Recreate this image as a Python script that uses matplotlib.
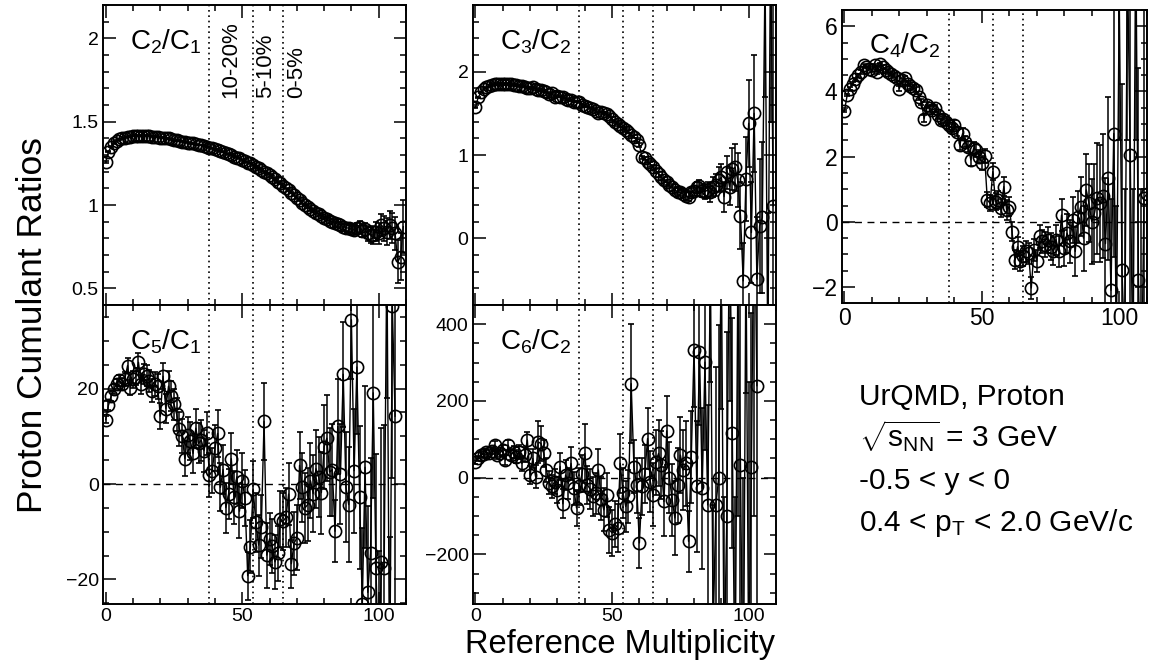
"""UrQMD proton cumulant ratios vs reference multiplicity (5 panels, ROOT-like style)."""

import matplotlib

matplotlib.use("Agg")
import matplotlib.pyplot as plt  # noqa: E402
import numpy as np  # noqa: E402
from matplotlib.ticker import FuncFormatter, MultipleLocator  # noqa: E402

# ---- data (one point per multiplicity bin) ----
c21 = [1.26, 1.32, 1.35, 1.37, 1.385, 1.395, 1.40, 1.405, 1.41, 1.41,
       1.415, 1.415, 1.415, 1.415, 1.415, 1.415, 1.415, 1.41, 1.41, 1.41,
       1.405, 1.405, 1.40, 1.40, 1.395, 1.39, 1.39, 1.385, 1.38, 1.38,
       1.375, 1.37, 1.37, 1.365, 1.36, 1.36, 1.355, 1.35, 1.345, 1.34,
       1.335, 1.33, 1.325, 1.32, 1.31, 1.305, 1.30, 1.29, 1.285, 1.28,
       1.27, 1.265, 1.255, 1.25, 1.24, 1.23, 1.22, 1.21, 1.20, 1.19,
       1.18, 1.17, 1.155, 1.14, 1.13, 1.115, 1.10, 1.09, 1.075, 1.06,
       1.045, 1.03, 1.015, 1.00, 0.99, 0.975, 0.965, 0.955, 0.945, 0.935,
       0.925, 0.915, 0.905, 0.90, 0.89, 0.885, 0.88, 0.87, 0.865, 0.86,
       0.855, 0.85, 0.86, 0.87, 0.845, 0.855, 0.83, 0.82, 0.82, 0.84,
       0.83, 0.88, 0.86, 0.84, 0.88, 0.86, 0.83, 0.66, 0.69, 0.87]
c21_err = [0.006, 0.004, 0.003, 0.003, 0.003, 0.003, 0.003, 0.003, 0.003, 0.003,
           0.003, 0.003, 0.003, 0.003, 0.003, 0.003, 0.003, 0.003, 0.003, 0.003,
           0.003, 0.003, 0.003, 0.003, 0.003, 0.003, 0.003, 0.003, 0.003, 0.003,
           0.003, 0.003, 0.003, 0.003, 0.003, 0.003, 0.003, 0.003, 0.003, 0.003,
           0.004, 0.004, 0.004, 0.004, 0.004, 0.004, 0.004, 0.004, 0.004, 0.004,
           0.004, 0.004, 0.004, 0.004, 0.004, 0.004, 0.004, 0.004, 0.004, 0.004,
           0.005, 0.005, 0.005, 0.005, 0.005, 0.005, 0.005, 0.005, 0.005, 0.005,
           0.006, 0.006, 0.007, 0.007, 0.008, 0.008, 0.009, 0.009, 0.010, 0.010,
           0.011, 0.012, 0.013, 0.014, 0.015, 0.016, 0.018, 0.019, 0.021, 0.023,
           0.025, 0.027, 0.030, 0.033, 0.036, 0.040, 0.044, 0.048, 0.053, 0.058,
           0.063, 0.068, 0.074, 0.080, 0.085, 0.090, 0.100, 0.130, 0.140, 0.160]

c32 = [1.57, 1.69, 1.75, 1.79, 1.81, 1.83, 1.84, 1.85, 1.85, 1.85,
       1.85, 1.85, 1.85, 1.85, 1.84, 1.84, 1.83, 1.83, 1.82, 1.80,
       1.80, 1.81, 1.79, 1.78, 1.78, 1.77, 1.75, 1.73, 1.74, 1.69,
       1.71, 1.70, 1.69, 1.67, 1.66, 1.66, 1.64, 1.64, 1.63, 1.60,
       1.59, 1.58, 1.56, 1.55, 1.53, 1.50, 1.52, 1.50, 1.49, 1.47,
       1.43, 1.40, 1.37, 1.35, 1.32, 1.30, 1.28, 1.24, 1.22, 1.18,
       1.12, 0.97, 0.96, 0.92, 0.89, 0.85, 0.81, 0.77, 0.73, 0.70,
       0.67, 0.64, 0.61, 0.58, 0.56, 0.55, 0.53, 0.51, 0.50, 0.55,
       0.57, 0.61, 0.63, 0.57, 0.56, 0.58, 0.55, 0.62, 0.64, 0.70,
       0.73, 0.50, 0.79, 0.62, 0.83, 0.85, 0.70, 0.27, -0.51, 0.71,
       1.38, 0.07, 1.50, -0.49, 0.15, 0.25, 3.2, -1.5, 3.6, 0.39]
c32_err = [0.01, 0.01, 0.01, 0.01, 0.01, 0.01, 0.01, 0.01, 0.01, 0.01,
           0.01, 0.01, 0.01, 0.01, 0.01, 0.01, 0.01, 0.01, 0.01, 0.01,
           0.01, 0.01, 0.01, 0.01, 0.01, 0.01, 0.01, 0.01, 0.01, 0.01,
           0.01, 0.01, 0.01, 0.01, 0.01, 0.01, 0.01, 0.01, 0.01, 0.01,
           0.01, 0.01, 0.01, 0.01, 0.01, 0.01, 0.01, 0.01, 0.01, 0.01,
           0.02, 0.02, 0.02, 0.02, 0.02, 0.02, 0.02, 0.02, 0.02, 0.02,
           0.02, 0.02, 0.02, 0.02, 0.03, 0.03, 0.03, 0.03, 0.03, 0.03,
           0.03, 0.03, 0.04, 0.04, 0.04, 0.04, 0.05, 0.05, 0.05, 0.05,
           0.06, 0.07, 0.07, 0.08, 0.09, 0.10, 0.11, 0.12, 0.13, 0.15,
           0.16, 0.18, 0.20, 0.22, 0.25, 0.28, 0.32, 0.40, 0.45, 0.50,
           0.52, 0.60, 0.70, 0.75, 0.80, 0.90, 1.50, 1.80, 2.20, 2.50]

c42 = [3.40, 3.89, 4.09, 4.24, 4.37, 4.50, 4.60, 4.80, 4.76, 4.70,
       4.65, 4.80, 4.60, 4.83, 4.76, 4.65, 4.60, 4.55, 4.47, 4.40,
       4.09, 4.35, 4.40, 4.24, 4.16, 4.12, 4.06, 3.84, 3.68, 3.17,
       3.58, 3.48, 3.43, 3.48, 3.28, 3.12, 3.17, 3.07, 2.97, 2.87,
       2.97, 2.77, 2.36, 2.71, 2.46, 2.31, 1.90, 2.26, 2.20, 2.00,
       1.80, 2.02, 0.67, 0.57, 1.54, 0.62, 0.67, 0.42, 1.08, 0.37,
       0.47, -0.30, -1.16, -0.76, -1.20, -1.06, -0.90, -0.96, -2.03, -0.86,
       -1.21, -0.45, -0.60, -0.70, -0.55, -0.76, -0.90, -0.55, -0.91, 0.21,
       -0.81, -0.35, -0.60, 0.06, -0.91, 0.16, 0.47, -0.50, 0.98, 0.57,
       0.01, 0.27, 0.72, 0.57, 0.78, -0.67, 1.34, -2.10, 2.71, -3.5,
       7.0, -1.47, -4.0, 8.0, 2.05, -5.0, 9.0, -1.78, -6.0, 0.74, 0.85]
c42_err = [0.03, 0.03, 0.04, 0.04, 0.04, 0.05, 0.05, 0.05, 0.05, 0.05,
           0.05, 0.05, 0.05, 0.05, 0.06, 0.06, 0.06, 0.06, 0.06, 0.07,
           0.07, 0.07, 0.07, 0.08, 0.08, 0.08, 0.09, 0.09, 0.10, 0.10,
           0.10, 0.11, 0.11, 0.12, 0.12, 0.12, 0.13, 0.13, 0.14, 0.14,
           0.15, 0.15, 0.16, 0.16, 0.17, 0.18, 0.18, 0.19, 0.20, 0.20,
           0.21, 0.22, 0.23, 0.24, 0.25, 0.26, 0.27, 0.28, 0.29, 0.30,
           0.30, 0.30, 0.30, 0.30, 0.31, 0.31, 0.32, 0.32, 0.33, 0.33,
           0.34, 0.35, 0.36, 0.38, 0.40, 0.42, 0.44, 0.46, 0.48, 0.50,
           0.55, 0.60, 0.65, 0.70, 0.75, 0.80, 0.90, 1.00, 1.10, 1.20,
           1.30, 1.50, 1.70, 1.80, 1.90, 2.00, 2.50, 2.80, 3.80, 4.00,
           4.50, 5.70, 5.00, 5.50, 6.00, 6.00, 6.50, 6.50, 7.00, 7.00, 7.50]

c51 = [13.5, 16.5, 18.4, 19.9, 21.0, 21.7, 21.0, 22.0, 24.8, 20.2,
       21.9, 22.5, 25.5, 20.9, 23.0, 22.7, 21.5, 19.5, 20.9, 20.5,
       14.2, 22.6, 15.8, 20.5, 18.4, 16.7, 14.6, 11.5, 10.0, 5.3,
       10.3, 9.0, 6.4, 11.7, 8.5, 9.2, 7.0, 10.6, 1.8, 2.8,
       7.5, 10.6, -0.7, 3.0, -4.96, -2.1, 5.3, -2.8, 1.5, -5.7,
       0.7, -3.0, -19.2, -13.1, -1.1, -8.0, -12.8, -9.0, 13.1, -14.9,
       -11.5, -13.0, -16.3, -14.5, -7.4, -7.8, -7.0, -2.1, -16.7, -12.4,
       -11.3, 3.9, -0.7, -5.0, -4.3, 0.7, -2.0, 3.2, 1.5, -1.8,
       7.8, 9.6, 2.5, 3.0, -9.9, 12.1, 2.1, 23.0, -0.7, -4.3,
       34.4, 2.8, 24.5, -2.8, -25.2, 3.5, -22.7, -14.5, 19.1, -17.7,
       -40.0, -16.3, -17.7, 50.0, -45.0, 37.2, 14.2]
c51_err = [0.8, 0.9, 1.0, 1.0, 1.1, 1.2, 1.3, 1.4, 1.5, 1.6,
           1.7, 1.8, 1.9, 2.0, 2.1, 2.2, 2.3, 2.4, 2.5, 2.6,
           2.7, 2.8, 3.0, 3.1, 3.2, 3.3, 3.4, 3.5, 3.6, 3.7,
           3.8, 3.9, 4.0, 4.1, 4.2, 4.3, 4.4, 4.5, 4.6, 4.7,
           4.8, 4.9, 5.0, 5.1, 5.2, 5.3, 5.4, 5.5, 5.6, 5.7,
           5.8, 5.9, 5.0, 5.5, 6.0, 6.2, 6.4, 6.6, 8.0, 6.8,
           5.5, 5.6, 5.7, 5.8, 5.9, 6.0, 6.2, 6.4, 5.0, 6.6,
           6.8, 7.0, 7.2, 7.4, 7.6, 7.8, 8.0, 8.2, 8.4, 8.6,
           8.8, 9.0, 9.3, 9.6, 6.5, 10.0, 10.5, 11.0, 11.5, 12.0,
           12.5, 13.0, 14.0, 15.0, 16.0, 17.0, 18.0, 20.0, 22.0, 24.0,
           26.0, 28.0, 30.0, 32.0, 34.0, 36.0, 40.0]

c62 = [41, 50, 59, 62, 67, 63, 70, 85, 59, 65,
       72, 46, 85, 60, 67, 55, 67, 37, 60, 98,
       7, 50, 3, 93, 89, 63, 20, -13, -23, -10,
       -32, 29, -68, 7, -15, 37, -28, -79, -23, 10,
       63, -19, -30, -49, -41, 20, -55, -84, -45, -136,
       -144, -120, -131, 37, -40, -75, -49, 245, 29, -20,
       -170, -23, 10, 102, -10, -45, 40, 63, 33, -62,
       122, 0, -58, -105, -20, 59, 20, 37, -166, 54,
       333, -23, 327, -28, 301, -71, 550, -400, -71, -2,
       600, -500, -101, 700, 117, -600, 500, 33, -700, 600,
       -500, 29, 800, 240]
c62_err = [6, 6, 7, 7, 8, 8, 9, 10, 10, 11,
           12, 13, 14, 15, 16, 17, 18, 19, 20, 22,
           24, 26, 30, 55, 45, 35, 30, 30, 30, 32,
           34, 36, 38, 40, 40, 42, 44, 46, 48, 48,
           78, 50, 52, 52, 54, 54, 56, 56, 58, 60,
           60, 60, 62, 78, 64, 66, 68, 155, 70, 72,
           65, 74, 76, 80, 80, 82, 84, 86, 88, 90,
           90, 92, 94, 96, 98, 100, 105, 110, 80, 120,
           150, 170, 190, 210, 230, 260, 300, 330, 360, 400,
           420, 450, 480, 500, 300, 550, 600, 650, 700, 380,
           750, 400, 900, 950]

centrality_edges = [38, 54, 65]
centrality_labels = ["10-20%", "5-10%", "0-5%"]

# ---- style ----
plt.rcParams["font.family"] = "Liberation Sans"
plt.rcParams["mathtext.fontset"] = "custom"
plt.rcParams["mathtext.rm"] = "Liberation Sans"
plt.rcParams["mathtext.it"] = "Liberation Sans:italic"
plt.rcParams["mathtext.bf"] = "Liberation Sans:bold"
plt.rcParams["axes.unicode_minus"] = True

W, H = 1153, 665
fig = plt.figure(figsize=(W / 100, H / 100), dpi=100)


def px_axes(l, t, r, b):
    # pixel box (left, top, right, bottom) -> figure fraction rect
    return fig.add_axes([l / W, 1 - b / H, (r - l) / W, (b - t) / H])


def panel(ax, y, err, ylim, major, minor, title, zero=False, xlabels=False, lsize=14):
    x = np.arange(len(y))
    ax.errorbar(x, y, yerr=err, fmt="o-", color="black", mfc="none", mec="black",
                ms=8.8, mew=1.2, lw=1.0, elinewidth=1.1, capsize=2.3, capthick=1.1,
                zorder=3)
    for e in centrality_edges:
        ax.axvline(e, color="black", ls=(0, (1, 2.2)), lw=1.2, zorder=1)
    if zero:
        ax.axhline(0, color="black", ls=(0, (5, 4)), lw=1.0, zorder=1)
    ax.set_xlim(-1, 110)
    ax.set_ylim(*ylim)
    ax.xaxis.set_major_locator(MultipleLocator(50))
    ax.xaxis.set_minor_locator(MultipleLocator(10))
    ax.yaxis.set_major_locator(MultipleLocator(major))
    ax.yaxis.set_minor_locator(MultipleLocator(minor))
    ax.yaxis.set_major_formatter(FuncFormatter(lambda v, p: f"{v:g}".replace("-", "\u2212")))
    ax.tick_params(which="both", direction="in", top=True, right=True, labelsize=lsize,
                   width=1.1, pad=3)
    ax.tick_params(which="major", length=9)
    ax.tick_params(which="minor", length=4.5)
    if not xlabels:
        ax.tick_params(axis="x", labelbottom=False)
    for s in ax.spines.values():
        s.set_linewidth(1.4)
    ax.text(0.09, 0.85, title, transform=ax.transAxes, fontsize=20, va="baseline")


ax1 = px_axes(103, 5, 406, 305)
panel(ax1, c21, c21_err, (0.4, 2.2), 0.5, 0.1, r"C$_{2}$/C$_{1}$")
for xt, lab in zip([45.8, 58.4, 70.0], centrality_labels):
    ax1.text(xt, 1.64, lab, rotation=90, ha="center", va="bottom", fontsize=16)

ax2 = px_axes(472.7, 5, 776, 305)
panel(ax2, c32, c32_err, (-0.8, 2.8), 1, 0.2, r"C$_{3}$/C$_{2}$")

ax3 = px_axes(841.7, 10, 1146.7, 303.3)
panel(ax3, c42, c42_err, (-2.5, 6.5), 2, 0.5, r"C$_{4}$/C$_{2}$", zero=True,
      xlabels=True, lsize=16.5)

ax4 = px_axes(103, 305, 406, 604.3)
panel(ax4, c51, c51_err, (-25.2, 37.5), 20, 5, r"C$_{5}$/C$_{1}$", zero=True, xlabels=True)

ax5 = px_axes(472.7, 305, 776, 604.3)
panel(ax5, c62, c62_err, (-330, 450), 200, 50, r"C$_{6}$/C$_{2}$", zero=True, xlabels=True)

fig.text(33 / W, 1 - 325 / H, "Proton Cumulant Ratios", rotation=90, ha="center",
         va="center", fontsize=25.5)
fig.text(620 / W, 1 - 653 / H, "Reference Multiplicity", ha="center", va="baseline",
         fontsize=23.5)

info = ["UrQMD, Proton",
        r"$\sqrt{\mathrm{s}_{\mathrm{NN}}}$ = 3 GeV",
        "-0.5 < y < 0",
        r"0.4 < p$_{\mathrm{T}}$ < 2.0 GeV/c"]
for i, line in enumerate(info):
    fig.text(859 / W, 1 - (405 + 42 * i) / H, line, fontsize=21.5, va="baseline")

fig.savefig("out.png", dpi=100)
